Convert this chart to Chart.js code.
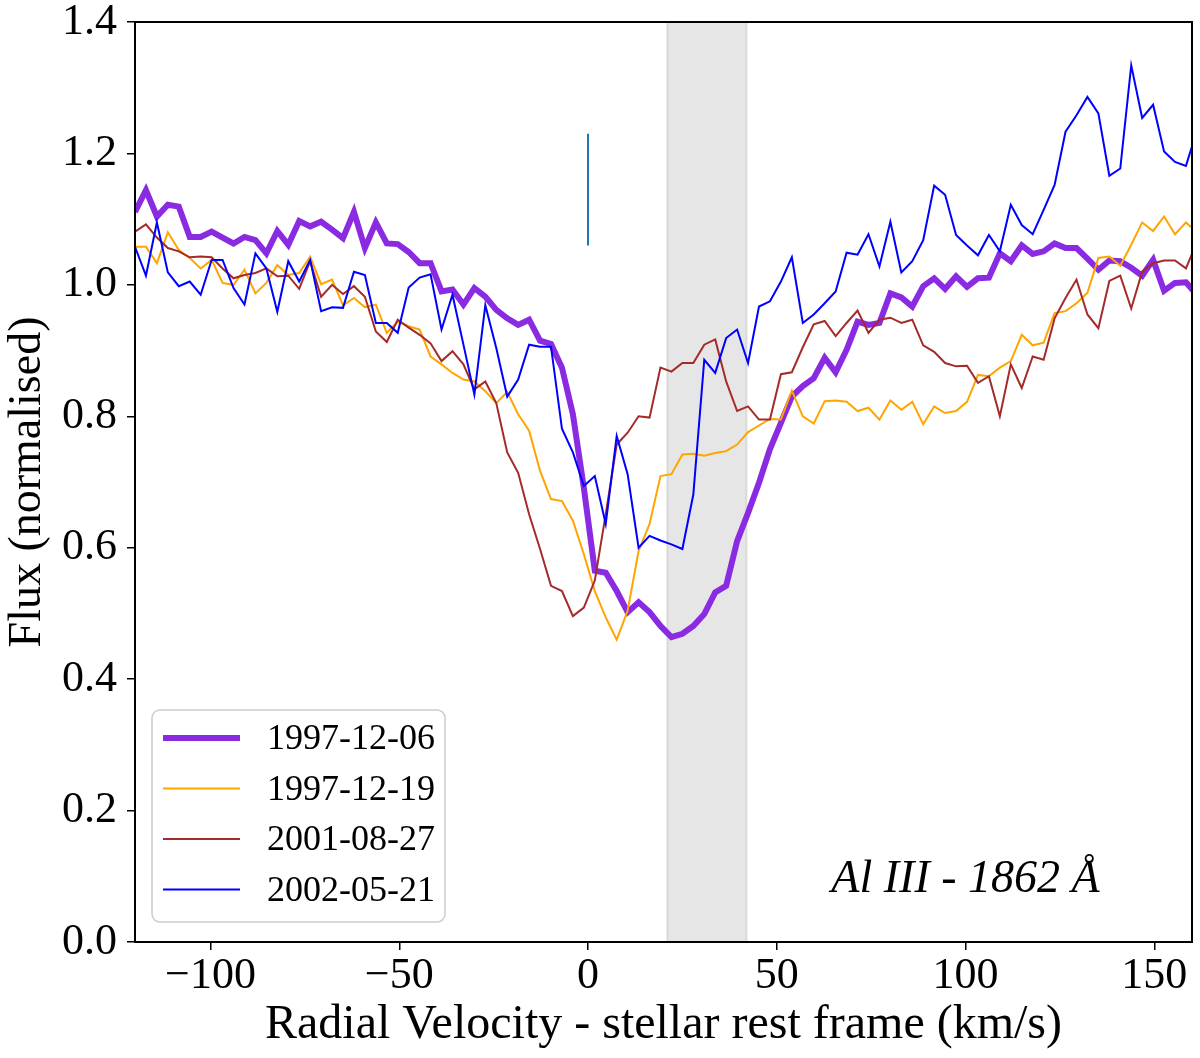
<!DOCTYPE html>
<html>
<head>
<meta charset="utf-8">
<script src="https://cdn.jsdelivr.net/npm/chart.js@4.4.1/dist/chart.umd.min.js"></script>
<style>
  body { margin: 0; background: #fff; }
  #wrap { width: 1200px; height: 1058px; }
</style>
</head>
<body>
<div id="wrap"><canvas id="chart" width="1200" height="1058"></canvas></div>
<script>
// radial velocity grid (km/s)
const velocity = [
  -120, -117.1, -114.2, -111.3, -108.4, -105.5, -102.6, -99.7, -96.8, -93.9,
  -91, -88.1, -85.2, -82.3, -79.4, -76.5, -73.6, -70.7, -67.8, -64.9,
  -62, -59.1, -56.2, -53.3, -50.4, -47.5, -44.6, -41.7, -38.8, -35.9,
  -33, -30.1, -27.2, -24.3, -21.4, -18.5, -15.6, -12.7, -9.8, -6.9,
  -4, -1.1, 1.8, 4.7, 7.6, 10.5, 13.4, 16.3, 19.2, 22.1,
  25, 27.9, 30.8, 33.7, 36.6, 39.5, 42.4, 45.3, 48.2, 51.1,
  54, 56.9, 59.8, 62.7, 65.6, 68.5, 71.4, 74.3, 77.2, 80.1,
  83, 85.9, 88.8, 91.7, 94.6, 97.5, 100.4, 103.3, 106.2, 109.1,
  112, 114.9, 117.8, 120.7, 123.6, 126.5, 129.4, 132.3, 135.2, 138.1,
  141, 143.9, 146.8, 149.7, 152.6, 155.5, 158.4, 161.3
]

const flux_1997_12_06 = [
  1.111, 1.144, 1.104, 1.122, 1.119, 1.073, 1.073, 1.081, 1.072, 1.063,
  1.073, 1.068, 1.048, 1.082, 1.061, 1.097, 1.089, 1.096, 1.084, 1.071,
  1.111, 1.056, 1.095, 1.063, 1.062, 1.05, 1.033, 1.033, 0.990, 0.993,
  0.970, 0.995, 0.982, 0.962, 0.949, 0.939, 0.947, 0.915, 0.910, 0.874,
  0.803, 0.691, 0.565, 0.562, 0.534, 0.502, 0.517, 0.502, 0.481, 0.464,
  0.469, 0.481, 0.499, 0.532, 0.542, 0.610, 0.653, 0.699, 0.750, 0.790,
  0.830, 0.846, 0.858, 0.889, 0.867, 0.901, 0.944, 0.939, 0.942, 0.987,
  0.981, 0.967, 0.998, 1.010, 0.994, 1.013, 0.997, 1.010, 1.011, 1.048,
  1.036, 1.060, 1.047, 1.051, 1.063, 1.056, 1.056, 1.040, 1.023, 1.037,
  1.036, 1.026, 1.014, 1.038, 0.991, 1.003, 1.004, 0.985
]

const flux_1997_12_19 = [
  1.058, 1.058, 1.033, 1.080, 1.053, 1.041, 1.025, 1.038, 1.003, 1.000,
  1.023, 0.987, 1.003, 1.030, 1.015, 1.018, 1.043, 1.001, 1.008, 0.969,
  0.980, 0.966, 0.970, 0.927, 0.944, 0.937, 0.932, 0.891, 0.879, 0.866,
  0.856, 0.853, 0.838, 0.820, 0.837, 0.803, 0.778, 0.717, 0.674, 0.671,
  0.641, 0.590, 0.534, 0.494, 0.460, 0.504, 0.595, 0.636, 0.709, 0.712,
  0.742, 0.743, 0.740, 0.744, 0.747, 0.757, 0.776, 0.786, 0.796, 0.795,
  0.839, 0.800, 0.789, 0.823, 0.824, 0.822, 0.808, 0.813, 0.795, 0.824,
  0.810, 0.822, 0.788, 0.815, 0.805, 0.808, 0.822, 0.863, 0.861, 0.874,
  0.884, 0.924, 0.908, 0.912, 0.957, 0.960, 0.972, 0.988, 1.041, 1.043,
  1.029, 1.061, 1.095, 1.082, 1.104, 1.077, 1.095, 1.080
]

const flux_2001_08_27 = [
  1.081, 1.092, 1.072, 1.056, 1.051, 1.042, 1.043, 1.042, 1.025, 1.010,
  1.015, 1.018, 1.025, 1.013, 1.014, 0.994, 1.036, 0.982, 1.000, 0.986,
  0.998, 0.982, 0.929, 0.913, 0.947, 0.935, 0.924, 0.911, 0.884, 0.899,
  0.879, 0.841, 0.853, 0.820, 0.745, 0.714, 0.651, 0.598, 0.542, 0.534,
  0.496, 0.509, 0.550, 0.651, 0.757, 0.775, 0.800, 0.798, 0.874, 0.868,
  0.881, 0.881, 0.909, 0.917, 0.853, 0.808, 0.815, 0.795, 0.795, 0.864,
  0.867, 0.905, 0.940, 0.945, 0.922, 0.942, 0.961, 0.927, 0.947, 0.950,
  0.942, 0.947, 0.908, 0.898, 0.881, 0.876, 0.877, 0.851, 0.861, 0.800,
  0.879, 0.843, 0.891, 0.886, 0.949, 0.980, 1.008, 0.955, 0.934, 1.006,
  1.014, 0.964, 1.020, 1.033, 1.037, 1.037, 1.025, 1.065
]

const flux_2002_05_21 = [
  1.058, 1.014, 1.095, 1.019, 0.998, 1.005, 0.985, 1.038, 1.038, 0.995,
  0.970, 1.048, 1.025, 0.959, 1.036, 1.005, 1.038, 0.960, 0.966, 0.965,
  1.020, 1.015, 0.942, 0.942, 0.927, 0.996, 1.011, 1.016, 0.932, 0.985,
  0.909, 0.833, 0.969, 0.904, 0.830, 0.856, 0.909, 0.906, 0.906, 0.781,
  0.745, 0.694, 0.709, 0.636, 0.770, 0.712, 0.600, 0.618, 0.611, 0.605,
  0.598, 0.681, 0.886, 0.866, 0.919, 0.932, 0.881, 0.967, 0.975, 1.005,
  1.042, 0.942, 0.955, 0.972, 0.990, 1.049, 1.046, 1.077, 1.028, 1.096,
  1.019, 1.036, 1.068, 1.151, 1.137, 1.076, 1.060, 1.045, 1.076, 1.051,
  1.122, 1.091, 1.077, 1.114, 1.152, 1.233, 1.258, 1.286, 1.261, 1.166,
  1.177, 1.334, 1.254, 1.274, 1.203, 1.187, 1.181, 1.235
]

const seriesLabels = ['1997-12-06', '1997-12-19', '2001-08-27', '2002-05-21']
const seriesFlux = [flux_1997_12_06, flux_1997_12_19, flux_2001_08_27, flux_2002_05_21]
const seriesColors = ['#8a2be2', '#ffa500', '#a52a2a', '#0000ff']
const seriesWidths = [6, 2, 2, 2]

const xTickValues = [-100, -50, 0, 50, 100, 150]
const yTickValues = [0, 0.2, 0.4, 0.6, 0.8, 1.0, 1.2, 1.4]

// shaded velocity band and the short rest-velocity marker
const bandRange = [21, 42]
const markerX = [0, 0]
const markerY = [1.06, 1.23]

const lineLabel = 'Al III - 1862 \u00c5'
const serif = '"Liberation Serif", "DejaVu Serif", serif'

function toPoints(xs, ys) {
  return xs.map((x, i) => ({ x: x, y: ys[i] }))
}

const datasets = seriesLabels.map((label, i) => ({
  label: label,
  data: toPoints(velocity, seriesFlux[i]),
  borderColor: seriesColors[i],
  borderWidth: seriesWidths[i],
  pointRadius: 0,
  tension: 0,
  fill: false,
  order: seriesLabels.length - i + 1
}))

datasets.push({
  label: 'marker',
  data: toPoints(markerX, markerY),
  borderColor: '#1f77b4',
  borderWidth: 2,
  pointRadius: 0,
  order: 0
})

const bandPlugin = {
  id: 'band',
  beforeDatasetsDraw(chart) {
    const ctx = chart.ctx
    const a = chart.chartArea
    const x = chart.scales.x
    const x0 = x.getPixelForValue(bandRange[0])
    const x1 = x.getPixelForValue(bandRange[1])
    ctx.save()
    ctx.fillStyle = 'rgba(128,128,128,0.2)'
    ctx.fillRect(x0, a.top, x1 - x0, a.bottom - a.top)
    ctx.strokeStyle = 'rgba(128,128,128,0.2)'
    ctx.lineWidth = 2
    ctx.strokeRect(x0, a.top, x1 - x0, a.bottom - a.top)
    ctx.restore()
  }
}

const framePlugin = {
  id: 'frame',
  afterDraw(chart) {
    const ctx = chart.ctx
    const a = chart.chartArea
    ctx.save()
    ctx.strokeStyle = '#000'
    ctx.lineWidth = 2
    ctx.strokeRect(a.left, a.top, a.right - a.left, a.bottom - a.top)

    // line label, bottom right
    ctx.fillStyle = '#000'
    ctx.font = 'italic 46px ' + serif
    ctx.textAlign = 'center'
    ctx.textBaseline = 'middle'
    ctx.fillText(lineLabel, chart.scales.x.getPixelForValue(100), chart.scales.y.getPixelForValue(0.094))

    // legend box, lower left
    const bx = a.left + 17, bw = 293, bh = 212
    const by = a.bottom - 20 - bh
    ctx.beginPath()
    ctx.roundRect(bx, by, bw, bh, 8)
    ctx.fillStyle = 'rgba(255,255,255,0.8)'
    ctx.fill()
    ctx.strokeStyle = '#cccccc'
    ctx.lineWidth = 1.5
    ctx.stroke()
    ctx.font = '36px ' + serif
    ctx.textAlign = 'left'
    seriesLabels.forEach((label, i) => {
      const yy = by + 28 + i * 50.5
      ctx.beginPath()
      ctx.moveTo(bx + 11, yy)
      ctx.lineTo(bx + 88, yy)
      ctx.strokeStyle = seriesColors[i]
      ctx.lineWidth = seriesWidths[i]
      ctx.stroke()
      ctx.fillStyle = '#000'
      ctx.fillText(label, bx + 115, yy + 2)
    })
    ctx.restore()
  }
}

new Chart(document.getElementById('chart'), {
  type: 'line',
  data: { datasets: datasets },
  options: {
    responsive: false,
    animation: false,
    devicePixelRatio: 1,
    layout: { padding: { left: 0, right: 8, top: 22, bottom: 0 } },
    plugins: { legend: { display: false }, tooltip: { enabled: false } },
    scales: {
      x: {
        type: 'linear',
        min: -120,
        max: 160,
        afterBuildTicks: s => { s.ticks = xTickValues.map(v => ({ value: v })) },
        afterFit: s => { s.height = 116; s.paddingLeft = 0; s.paddingRight = 0 },
        ticks: {
          font: { family: serif, size: 44 },
          color: '#000',
          padding: 0,
          maxRotation: 0,
          callback: v => v < 0 ? '\u2212' + Math.abs(v) : String(v)
        },
        grid: { drawOnChartArea: false, tickLength: 8, color: '#000', lineWidth: 1.5 },
        border: { display: true, color: '#000', width: 2 },
        title: {
          display: true,
          text: 'Radial Velocity - stellar rest frame (km/s)',
          font: { family: serif, size: 48 },
          color: '#000',
          padding: { top: 0, bottom: 4 }
        }
      },
      y: {
        min: 0,
        max: 1.4,
        afterBuildTicks: s => { s.ticks = yTickValues.map(v => ({ value: v })) },
        afterFit: s => { s.width = 135; s.paddingTop = 0; s.paddingBottom = 0 },
        ticks: {
          font: { family: serif, size: 44 },
          color: '#000',
          padding: 10,
          callback: v => v.toFixed(1)
        },
        grid: { drawOnChartArea: false, tickLength: 8, color: '#000', lineWidth: 1.5 },
        border: { display: true, color: '#000', width: 2 },
        title: {
          display: true,
          text: 'Flux (normalised)',
          font: { family: serif, size: 46 },
          color: '#000',
          padding: { top: 0, bottom: 0 }
        }
      }
    }
  },
  plugins: [bandPlugin, framePlugin]
})
</script>
</body>
</html>
